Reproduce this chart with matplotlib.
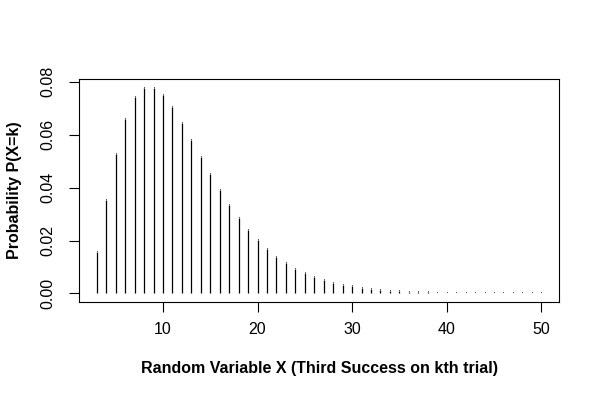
import numpy as np
import matplotlib.pyplot as plt

plt.rcParams['font.family'] = ['Liberation Sans', 'DejaVu Sans']

# values (trial number k and P(X=k))
k = list(range(3, 51))
prob = [0.015625, 0.035156, 0.052734, 0.065918, 0.074158, 0.077866, 0.077866,
        0.075085, 0.070392, 0.064526, 0.058073, 0.051474, 0.045040, 0.038977,
        0.033408, 0.028397, 0.023960, 0.020084, 0.016737, 0.013873, 0.011446,
        0.009402, 0.007693, 0.006271, 0.005095, 0.004127, 0.003333, 0.002685,
        0.002158, 0.001730, 0.001384, 0.001105, 0.000881, 0.000700, 0.000556,
        0.000441, 0.000349, 0.000276, 0.000218, 0.000172, 0.000135, 0.000106,
        0.0000836, 0.0000656, 0.0000514, 0.0000403, 0.0000315, 0.0000246]
xticks = [10, 20, 30, 40, 50]
yticks = [0.00, 0.02, 0.04, 0.06, 0.08]

fig = plt.figure(figsize=(6, 4), dpi=100)
ax = fig.add_axes([0.1317, 0.2458, 0.80, 0.556])

ax.vlines(k, 0, prob, colors='black', linewidth=0.9)
# tiny spikes in the tail still show up as single pixels
ax.plot(k, prob, ',', color='#555555')

xr = max(k) - min(k)
ax.set_xlim(min(k) - 0.04 * xr, max(k) + 0.04 * xr)
yr = max(prob)
ax.set_ylim(-0.04 * yr, yr * 1.04)

ax.set_xticks(xticks)
ax.set_xticklabels([str(t) for t in xticks], fontsize=11.5)
ax.set_yticks(yticks)
ax.set_yticklabels(['%.2f' % t for t in yticks], fontsize=11.5, rotation=90, va='center')
ax.tick_params(direction='out', length=7.2, width=0.8)
ax.tick_params(axis='x', pad=7.5)
ax.tick_params(axis='y', pad=9.5)

for s in ax.spines.values():
    s.set_linewidth(0.8)

ax.set_xlabel('Random Variable X (Third Success on kth trial)', fontsize=11.5,
              fontweight='bold')
ax.set_ylabel('Probability P(X=k)', fontsize=11.5, fontweight='bold')
ax.xaxis.set_label_coords(0.5, -0.268)
ax.yaxis.set_label_coords(-0.119, 0.5)

fig.savefig('out.png', dpi=100)
